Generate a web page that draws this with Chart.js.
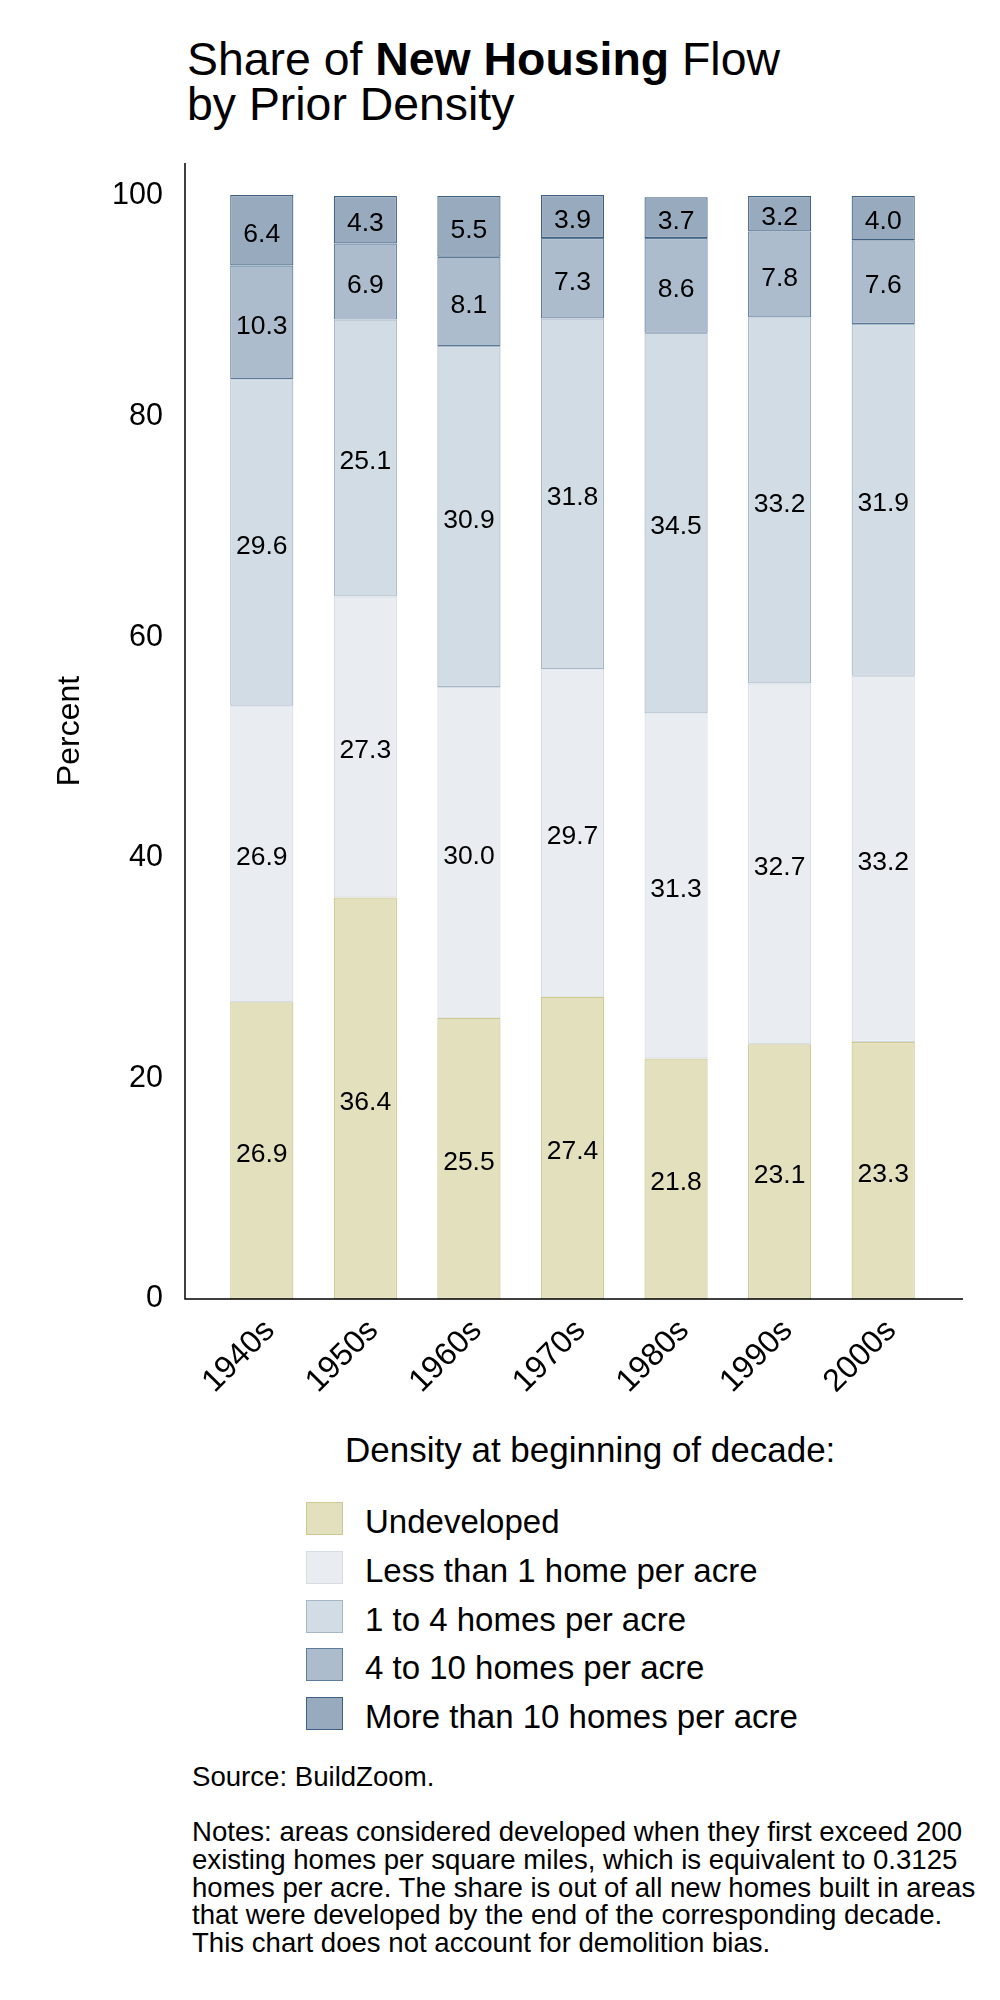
<!DOCTYPE html>
<html>
<head>
<meta charset="utf-8">
<script src="https://cdn.jsdelivr.net/npm/chart.js@4.4.1/dist/chart.umd.min.js"></script>
<style>
  html, body { margin: 0; padding: 0; background: #fff; }
  body { width: 1000px; height: 2000px; position: relative; font-family: "Liberation Sans", Arial, Helvetica, sans-serif; color: #000; }
  #chart { position: absolute; left: 0; top: 0; }
  .title { position: absolute; left: 187px; top: 37px; font-size: 46.4px; line-height: 45px; white-space: nowrap; }
  .legend-title { position: absolute; left: 345px; top: 1432px; font-size: 35px; line-height: 35px; white-space: nowrap; }
  .legend { position: absolute; left: 306px; top: 1502px; }
  .legend-item { position: relative; height: 48.75px; }
  .legend-box { position: absolute; left: 0; top: 0; width: 35px; height: 31px; border: 1px solid; }
  .legend-text { position: absolute; left: 59px; top: 3px; font-size: 33px; line-height: 33px; white-space: nowrap; }
  .notes { position: absolute; left: 192px; font-size: 27.6px; line-height: 27.75px; white-space: nowrap; }
</style>
</head>
<body>
<div class="title">Share of <b>New Housing</b> Flow<br>by Prior Density</div>
<canvas id="chart" width="1000" height="1420"></canvas>
<div class="legend-title">Density at beginning of decade:</div>
<div class="legend" id="legend"></div>
<div class="notes" style="top:1763px">Source: BuildZoom.</div>
<div class="notes" style="top:1818px">Notes: areas considered developed when they first exceed 200<br>existing homes per square miles, which is equivalent to 0.3125<br>homes per acre. The share is out of all new homes built in areas<br>that were developed by the end of the corresponding decade.<br>This chart does not account for demolition bias.</div>
<script>
const decades = ['1940s', '1950s', '1960s', '1970s', '1980s', '1990s', '2000s'];
const seriesNames = ['Undeveloped', 'Less than 1 home per acre', '1 to 4 homes per acre', '4 to 10 homes per acre', 'More than 10 homes per acre'];
const undeveloped = [26.9, 36.4, 25.5, 27.4, 21.8, 23.1, 23.3];
const lessThanOne = [26.9, 27.3, 30.0, 29.7, 31.3, 32.7, 33.2];
const oneToFour = [29.6, 25.1, 30.9, 31.8, 34.5, 33.2, 31.9];
const fourToTen = [10.3, 6.9, 8.1, 7.3, 8.6, 7.8, 7.6];
const moreThanTen = [6.4, 4.3, 5.5, 3.9, 3.7, 3.2, 4.0];
const yTicks = [0, 20, 40, 60, 80, 100];

const fills = ['#e3e0be', '#e9edf1', '#d2dce5', '#acbccc', '#98aabe'];
const borders = ['#cdc791', '#d5dce4', '#a5b6c7', '#5e7d9c', '#3f6082'];
const seriesValues = [undeveloped, lessThanOne, oneToFour, fourToTen, moreThanTen];

const font = '"Liberation Sans", Arial, Helvetica, sans-serif';

// axis lines reach past the bars on both sides, like the original
const axisLines = {
  id: 'axisLines',
  afterDraw(chart) {
    const { ctx, chartArea: a } = chart;
    ctx.save();
    ctx.strokeStyle = '#000';
    ctx.lineWidth = 1.5;
    ctx.beginPath();
    ctx.moveTo(185, a.top);
    ctx.lineTo(185, a.bottom);
    ctx.lineTo(963, a.bottom);
    ctx.stroke();
    ctx.restore();
  }
};

const valueLabels = {
  id: 'valueLabels',
  afterDatasetsDraw(chart) {
    const ctx = chart.ctx;
    ctx.save();
    ctx.font = '26.5px ' + font;
    ctx.fillStyle = '#000';
    ctx.textAlign = 'center';
    ctx.textBaseline = 'middle';
    chart.data.datasets.forEach((ds, i) => {
      chart.getDatasetMeta(i).data.forEach((bar, j) => {
        ctx.fillText(ds.data[j].toFixed(1), bar.x, (bar.y + bar.base) / 2 + 4);
      });
    });
    ctx.restore();
  }
};

const chart = new Chart(document.getElementById('chart'), {
  type: 'bar',
  data: {
    labels: decades,
    datasets: seriesValues.map((vals, i) => ({
      label: seriesNames[i],
      data: vals,
      backgroundColor: fills[i],
      borderColor: borders[i],
      borderWidth: 1.2,
      borderSkipped: false,
      barPercentage: 0.61,
      categoryPercentage: 1
    }))
  },
  options: {
    responsive: false,
    animation: false,
    devicePixelRatio: 1,
    layout: { padding: { left: 0, top: 163, right: 65, bottom: 0 } },
    plugins: { legend: { display: false }, tooltip: { enabled: false } },
    scales: {
      x: {
        stacked: true,
        grid: { display: false, drawTicks: false },
        border: { display: false },
        ticks: { color: '#000', font: { family: font, size: 32 }, minRotation: 45, maxRotation: 45, padding: 13, labelOffset: 8, autoSkip: false },
        afterFit: (s) => { s.height = 121; }
      },
      y: {
        stacked: true,
        min: 0,
        max: 103,
        grid: { display: false, drawTicks: false },
        border: { display: false },
        ticks: { color: '#000', font: { family: font, size: 30.5 }, stepSize: 20, padding: 47 },
        afterBuildTicks: (s) => { s.ticks = yTicks.map(v => ({ value: v })); },
        title: { display: true, text: 'Percent', color: '#000', font: { family: font, size: 32 }, padding: { top: 51, bottom: 0 } },
        afterFit: (s) => { s.width = 210; }
      }
    }
  },
  plugins: [axisLines, valueLabels]
});

const legend = document.getElementById('legend');
chart.data.datasets.forEach(ds => {
  const item = document.createElement('div');
  item.className = 'legend-item';
  item.innerHTML = `<div class="legend-box" style="background:${ds.backgroundColor};border-color:${ds.borderColor}"></div><div class="legend-text">${ds.label}</div>`;
  legend.appendChild(item);
});
</script>
</body>
</html>
